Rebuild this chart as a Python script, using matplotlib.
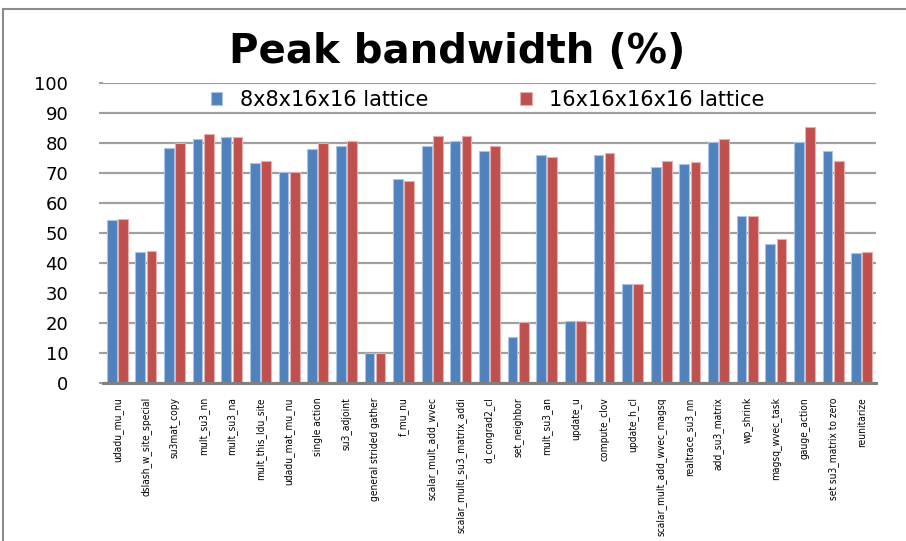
import matplotlib
matplotlib.use("Agg")
import matplotlib.pyplot as plt
from matplotlib import font_manager
from matplotlib.lines import Line2D
import numpy as np

categories = [
    "udadu_mu_nu", "dslash_w_site_special", "su3mat_copy", "mult_su3_nn",
    "mult_su3_na", "mult_this_ldu_site", "udadu_mat_mu_nu", "single action",
    "su3_adjoint", "general strided gather", "f_mu_nu", "scalar_mult_add_wvec",
    "scalar_multi_su3_matrix_addi", "d_congrad2_cl", "set_neighbor",
    "mult_su3_an", "update_u", "compute_clov", "update_h_cl",
    "scalar_mult_add_wvec_magsq", "realtrace_su3_nn", "add_su3_matrix",
    "wp_shrink", "magsq_wvec_task", "gauge_action", "set su3_matrix to zero",
    "reunitarize",
]
lattice_8x8 = [
    54.3, 43.7, 78.4, 81.2, 82.0, 73.2, 70.2, 78.0, 79.0, 10.0, 67.9, 78.9,
    80.6, 77.5, 15.5, 75.9, 20.7, 75.9, 33.0, 71.9, 72.9, 80.3, 55.6, 46.4,
    80.3, 77.2, 43.3,
]
lattice_16x16 = [
    54.7, 44.1, 79.9, 82.9, 82.0, 74.0, 70.5, 79.9, 80.7, 10.0, 67.4, 82.5,
    82.5, 78.9, 20.4, 75.3, 20.7, 76.6, 33.0, 74.0, 73.6, 81.5, 55.6, 48.1,
    85.5, 74.0, 43.7,
]
series_names = ["8x8x16x16 lattice", "16x16x16x16 lattice"]
y_ticks = [0, 10, 20, 30, 40, 50, 60, 70, 80, 90, 100]

# pick a narrow face for the rotated category labels when one is installed
faces = font_manager.fontManager.ttflist
names = {f.name for f in faces}
label_font = {"family": "DejaVu Sans"}
if "Liberation Sans Narrow" in names:
    label_font = {"family": "Liberation Sans Narrow"}
elif any(f.name == "DejaVu Sans" and f.stretch == "condensed" for f in faces):
    label_font = {"family": "DejaVu Sans", "stretch": "condensed"}

blue = "#4F81BD"
red = "#C0504D"

fig = plt.figure(figsize=(9.06, 5.41), dpi=100)
ax = fig.add_axes([103 / 906, (541 - 383.3) / 541, (876 - 103) / 906, (383.3 - 83) / 541])

x = np.arange(len(categories))
w = 0.34
off = 0.195
ax.bar(x - off, lattice_8x8, width=w, color=blue, edgecolor="#A9C4E6", linewidth=0.8,
       label=series_names[0], zorder=3)
ax.bar(x + off, lattice_16x16, width=w, color=red, edgecolor="#E6AFAE", linewidth=0.8,
       label=series_names[1], zorder=3)

ax.set_xlim(-0.5, len(categories) - 0.5)
ax.set_ylim(0, 100)
ax.set_yticks(y_ticks)
ax.set_yticklabels([str(v) for v in y_ticks], fontsize=13, family="DejaVu Sans")
ax.tick_params(axis="y", length=3, width=1.5, color="#A0A0A0", pad=22)
ax.yaxis.grid(True, color="#A0A0A0", linewidth=1.6, zorder=0)
ax.set_axisbelow(True)

# size the category labels so the longest one spans about 135 px
probe_size = 10.0
probe = fig.text(0, 0, max(categories, key=len), fontsize=probe_size, **label_font)
renderer = fig.canvas.get_renderer()
probe_w = probe.get_window_extent(renderer).width
probe.remove()
label_size = probe_size * 135.0 / probe_w

ax.set_xticks(x)
ax.set_xticklabels(categories, rotation=90, fontsize=label_size, va="top", ha="center",
                   **label_font)
ax.tick_params(axis="x", length=0, pad=10)

for s in ["left", "right", "top"]:
    ax.spines[s].set_visible(False)
ax.spines["bottom"].set_color("#808080")
ax.spines["bottom"].set_linewidth(2.2)
ax.spines["bottom"].set_zorder(4)

fig.text(457 / 906, 1 - 52 / 541, "Peak bandwidth (%)", ha="center", va="center",
         fontsize=29, fontweight="bold", family="DejaVu Sans")

leg = ax.legend(loc="center left", bbox_to_anchor=(211 / 906, 1 - 100 / 541),
                bbox_transform=fig.transFigure, ncol=2, frameon=False,
                prop={"family": "DejaVu Sans", "size": 15},
                handlelength=0.55, handleheight=0.55, handletextpad=0.85,
                columnspacing=4.4, borderaxespad=0, borderpad=0)

# outer chart frame (top and left edges)
fig.add_artist(Line2D([3 / 906, 3 / 906], [0, 1 - 9 / 541], transform=fig.transFigure,
                      color="#8C8C8C", linewidth=1.5))
fig.add_artist(Line2D([3 / 906, 1], [1 - 9 / 541, 1 - 9 / 541], transform=fig.transFigure,
                      color="#8C8C8C", linewidth=1.5))

fig.savefig("out.png", dpi=100)
